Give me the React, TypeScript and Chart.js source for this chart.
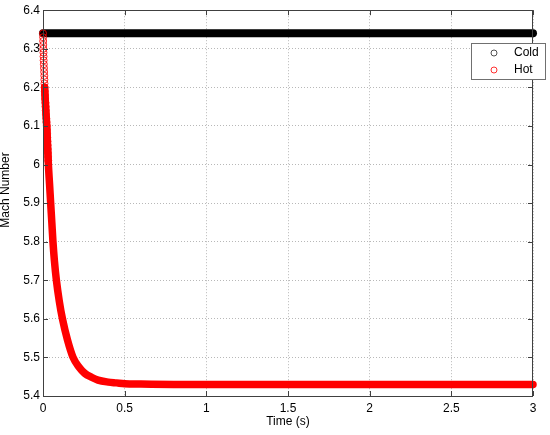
import React, { useEffect, useRef } from "react";
import { Chart, registerables } from "chart.js";

Chart.register(...registerables);

// ---- data ----
const xTicks = [0, 0.5, 1, 1.5, 2, 2.5, 3];
const yTicks = [5.4, 5.5, 5.6, 5.7, 5.8, 5.9, 6.0, 6.1, 6.2, 6.3, 6.4];

const coldTime = [0, 3];
const coldMach = [6.34, 6.34];

const hotTime = [
  0.01, 0.016, 0.023, 0.029, 0.033, 0.04, 0.047, 0.054, 0.061, 0.07, 0.082, 0.1, 0.119,
  0.15, 0.184, 0.22, 0.255, 0.3, 0.337, 0.4, 0.45, 0.5, 0.6, 0.8, 1.0, 1.5, 2.0,
  2.5, 3.0,
];
const hotMach = [
  6.2, 6.15, 6.1, 6.04, 6.0, 5.95, 5.9, 5.85, 5.8, 5.75, 5.7, 5.645, 5.6, 5.545, 5.5,
  5.475, 5.459, 5.448, 5.441, 5.436, 5.434, 5.432, 5.431, 5.43, 5.43, 5.43, 5.43,
  5.43, 5.43,
];

// individual markers visible on the steep first part of the Hot curve
const hotMarkerTime = [
  0, 0.0005, 0.001, 0.0015, 0.002, 0.003, 0.0035, 0.004, 0.005, 0.006, 0.007,
  0.008, 0.0085, 0.009, 0.01, 0.011, 0.012, 0.013, 0.015, 0.016, 0.017, 0.018,
  0.02, 0.021, 0.023, 0.024, 0.025, 0.026, 0.027, 0.028, 0.029, 0.03, 0.031, 0.032,
];
const hotMarkerMach = [
  6.34, 6.33, 6.32, 6.31, 6.3, 6.29, 6.28, 6.27, 6.26, 6.25, 6.24, 6.23, 6.22,
  6.21, 6.2, 6.19, 6.18, 6.17, 6.16, 6.15, 6.14, 6.13, 6.12, 6.11, 6.1, 6.09,
  6.08, 6.07, 6.06, 6.05, 6.04, 6.03, 6.02, 6.01,
];

const legendLabels = ["Cold", "Hot"];
const legendColors = ["#505050", "#ff3030"];

const FONT = "'Liberation Sans', Arial, Helvetica, sans-serif";

const fmt = (v: number) => String(parseFloat(v.toFixed(1)));

const zip = (xs: number[], ys: number[]) => xs.map((x, i) => ({ x, y: ys[i] }));

const matlabPlugin = {
  id: "matlabDecor",
  afterDraw(chart: any) {
    const { ctx, chartArea: a, scales } = chart;
    const xs = scales.x;
    const ys = scales.y;
    ctx.save();
    // box
    ctx.strokeStyle = "#404040";
    ctx.lineWidth = 1;
    ctx.strokeRect(Math.round(a.left) + 0.5, Math.round(a.top) + 0.5, Math.round(a.right - a.left) - 1, Math.round(a.bottom - a.top));
    // inward ticks
    const tl = 5;
    ctx.beginPath();
    xTicks.forEach((t) => {
      const px = Math.round(xs.getPixelForValue(t)) + 0.5;
      ctx.moveTo(px, a.bottom);
      ctx.lineTo(px, a.bottom - tl);
      ctx.moveTo(px, a.top);
      ctx.lineTo(px, a.top + tl);
    });
    yTicks.forEach((t) => {
      const py = Math.round(ys.getPixelForValue(t)) + 0.5;
      ctx.moveTo(a.left, py);
      ctx.lineTo(a.left + tl, py);
      ctx.moveTo(a.right, py);
      ctx.lineTo(a.right - tl, py);
    });
    ctx.stroke();

    // axis titles
    ctx.fillStyle = "#000";
    ctx.font = `12px ${FONT}`;
    ctx.textAlign = "center";
    ctx.textBaseline = "middle";
    ctx.fillText("Time (s)", (a.left + a.right) / 2, 422);
    ctx.save();
    ctx.translate(6, 190);
    ctx.rotate(-Math.PI / 2);
    ctx.fillText("Mach Number", 0, 0);
    ctx.restore();

    // legend
    const lx = 471, ly = 43, lw = 75, lh = 37;
    ctx.fillStyle = "#fff";
    ctx.fillRect(lx, ly, lw, lh);
    ctx.strokeStyle = "#707070";
    ctx.strokeRect(lx + 0.5, ly + 0.5, lw - 1, lh - 1);
    legendLabels.forEach((lab, i) => {
      const cy = 53 + i * 17;
      ctx.beginPath();
      ctx.strokeStyle = legendColors[i];
      ctx.lineWidth = 1;
      ctx.arc(494, cy, 3, 0, Math.PI * 2);
      ctx.stroke();
      ctx.fillStyle = "#000";
      ctx.textAlign = "left";
      ctx.fillText(lab, 514, cy);
    });
    ctx.restore();
  },
};

export default function App() {
  const ref = useRef<HTMLCanvasElement | null>(null);

  useEffect(() => {
    if (!ref.current) return;
    const chart = new Chart(ref.current, {
      type: "line",
      data: {
        datasets: [
          {
            label: "Hot markers",
            data: zip(hotMarkerTime, hotMarkerMach),
            showLine: false,
            pointRadius: 3.5,
            pointBorderWidth: 1,
            pointBorderColor: "rgba(255,0,0,0.85)",
            pointBackgroundColor: "rgba(0,0,0,0)",
            clip: false,
            order: 1,
          },
          {
            label: "Hot",
            data: zip(hotTime, hotMach),
            borderColor: "#ff0000",
            borderWidth: 7.5,
            borderCapStyle: "round",
            borderJoinStyle: "round",
            pointRadius: 0,
            cubicInterpolationMode: "monotone",
            clip: false,
            order: 2,
          },
          {
            label: "Cold",
            data: zip(coldTime, coldMach),
            borderColor: "#000000",
            borderWidth: 8,
            borderCapStyle: "round",
            pointRadius: 0,
            clip: false,
            order: 3,
          },
        ],
      },
      options: {
        animation: false,
        responsive: false,
        devicePixelRatio: 1,
        layout: { padding: { left: 0, top: 10, right: 17, bottom: 0 } },
        plugins: { legend: { display: false }, tooltip: { enabled: false } },
        scales: {
          x: {
            type: "linear",
            min: 0,
            max: 3,
            afterFit: (s: any) => {
              s.height = 39;
            },
            afterBuildTicks: (s: any) => {
              s.ticks = xTicks.map((v) => ({ value: v }));
            },
            ticks: {
              color: "#000",
              font: { family: FONT, size: 12 },
              padding: 5,
              maxRotation: 0,
              callback: (v: any) => fmt(Number(v)),
            },
            grid: {
              color: "#b8b8b8",
              drawTicks: false,
            },
            border: { display: false, dash: [1, 2] },
          },
          y: {
            type: "linear",
            min: 5.4,
            max: 6.4,
            afterFit: (s: any) => {
              s.width = 43;
            },
            afterBuildTicks: (s: any) => {
              s.ticks = yTicks.map((v) => ({ value: v }));
            },
            ticks: {
              color: "#000",
              font: { family: FONT, size: 12 },
              padding: 3,
              callback: (v: any) => fmt(Number(v)),
            },
            grid: {
              color: "#b8b8b8",
              drawTicks: false,
            },
            border: { display: false, dash: [1, 2] },
          },
        },
      },
      plugins: [matlabPlugin],
    } as any);
    return () => chart.destroy();
  }, []);

  return (
    <div style={{ position: "absolute", left: 0, top: 0, width: 550, height: 435, background: "#fff" }}>
      <canvas ref={ref} width={550} height={435} />
    </div>
  );
}
